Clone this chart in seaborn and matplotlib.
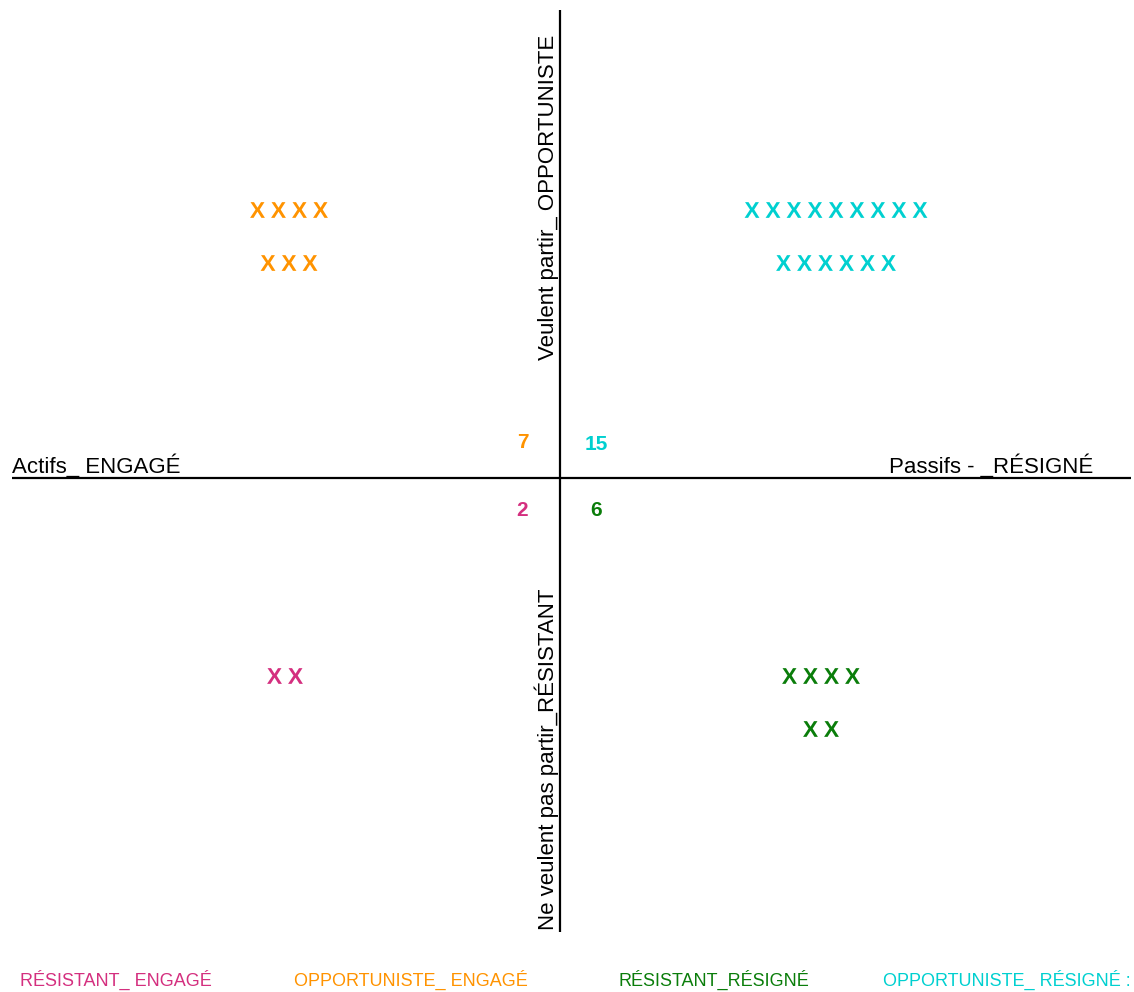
import numpy as np
import pandas as pd
import matplotlib
matplotlib.use("Agg")
import matplotlib.pyplot as plt
import seaborn as sns

# données : nombre de personnes par quadrant, rangées de croix
groupes = ["RÉSISTANT_ ENGAGÉ", "OPPORTUNISTE_ ENGAGÉ", "RÉSISTANT_RÉSIGNÉ", "OPPORTUNISTE_ RÉSIGNÉ :"]
rangees = [[2], [4, 3], [4, 2], [9, 6]]
couleurs = ["#D42F7F", "#FF9300", "#0A7D0A", "#00D0D0"]

axe_gauche = "Actifs_ ENGAGÉ"
axe_droite = "Passifs - _RÉSIGNÉ"
axe_haut = "Veulent partir_ OPPORTUNISTE"
axe_bas = "Ne veulent pas partir_RÉSISTANT"

# mise en page (repère centré sur le croisement des axes, 1 unité = 1 px)
centres_x = [-275, -271, 261, 276]
premiere_ligne_y = [-198, 268, -198, 268]
pas_x, pas_y = 21, 53
pos_total = [(-38, -32), (-37, 35), (36, -32), (36, 33)]
legende_x = [-540, -266, 59, 323]

sns.set_theme(style="white")
plt.rcParams['font.family'] = ['Liberation Sans', 'DejaVu Sans']
plt.rcParams['text.color'] = 'black'
plt.rcParams['mathtext.fontset'] = 'custom'
plt.rcParams['mathtext.bf'] = 'Liberation Sans:bold'

# construire la table des croix
lignes = []
for g, rs, cx, y0 in zip(groupes, rangees, centres_x, premiere_ligne_y):
    for k, n in enumerate(rs):
        for i in range(n):
            lignes.append({"groupe": g,
                           "x": cx + (i - (n - 1) / 2) * pas_x,
                           "y": y0 - k * pas_y})
df = pd.DataFrame(lignes)

fig = plt.figure(figsize=(11.34, 9.92), dpi=100)
ax = fig.add_axes([0, 0, 1, 1])
ax.set_xlim(-560, 574)
ax.set_ylim(-514, 478)
ax.axis('off')

# axes du quadrant
ax.plot([-548, 571], [0, 0], color="black", lw=1.6, solid_capstyle="butt")
ax.plot([0, 0], [-454, 468], color="black", lw=1.6, solid_capstyle="butt")

sns.scatterplot(data=df, x="x", y="y", hue="groupe", palette=dict(zip(groupes, couleurs)),
                marker=r"$\mathbf{X}$", s=128, linewidth=0, legend=False, ax=ax)

# libellés des axes
ax.text(-548, 5, axe_gauche, fontsize=16, ha="left", va="baseline")
ax.text(329, 5, axe_droite, fontsize=16, ha="left", va="baseline")
ax.text(-6, 118, axe_haut, fontsize=16, rotation=90, rotation_mode="anchor",
        ha="left", va="baseline")
ax.text(-6, -452, axe_bas, fontsize=16, rotation=90, rotation_mode="anchor",
        ha="left", va="baseline")

# totaux par quadrant
for rs, (tx, ty), c in zip(rangees, pos_total, couleurs):
    ax.text(tx, ty, str(sum(rs)), color=c, fontsize=15, fontweight="bold",
            ha="center", va="center")

# légende en bas
for g, lx, c in zip(groupes, legende_x, couleurs):
    ax.text(lx, -508, g, color=c, fontsize=13, ha="left", va="baseline")

fig.savefig("out.png", dpi=100, facecolor="white")
